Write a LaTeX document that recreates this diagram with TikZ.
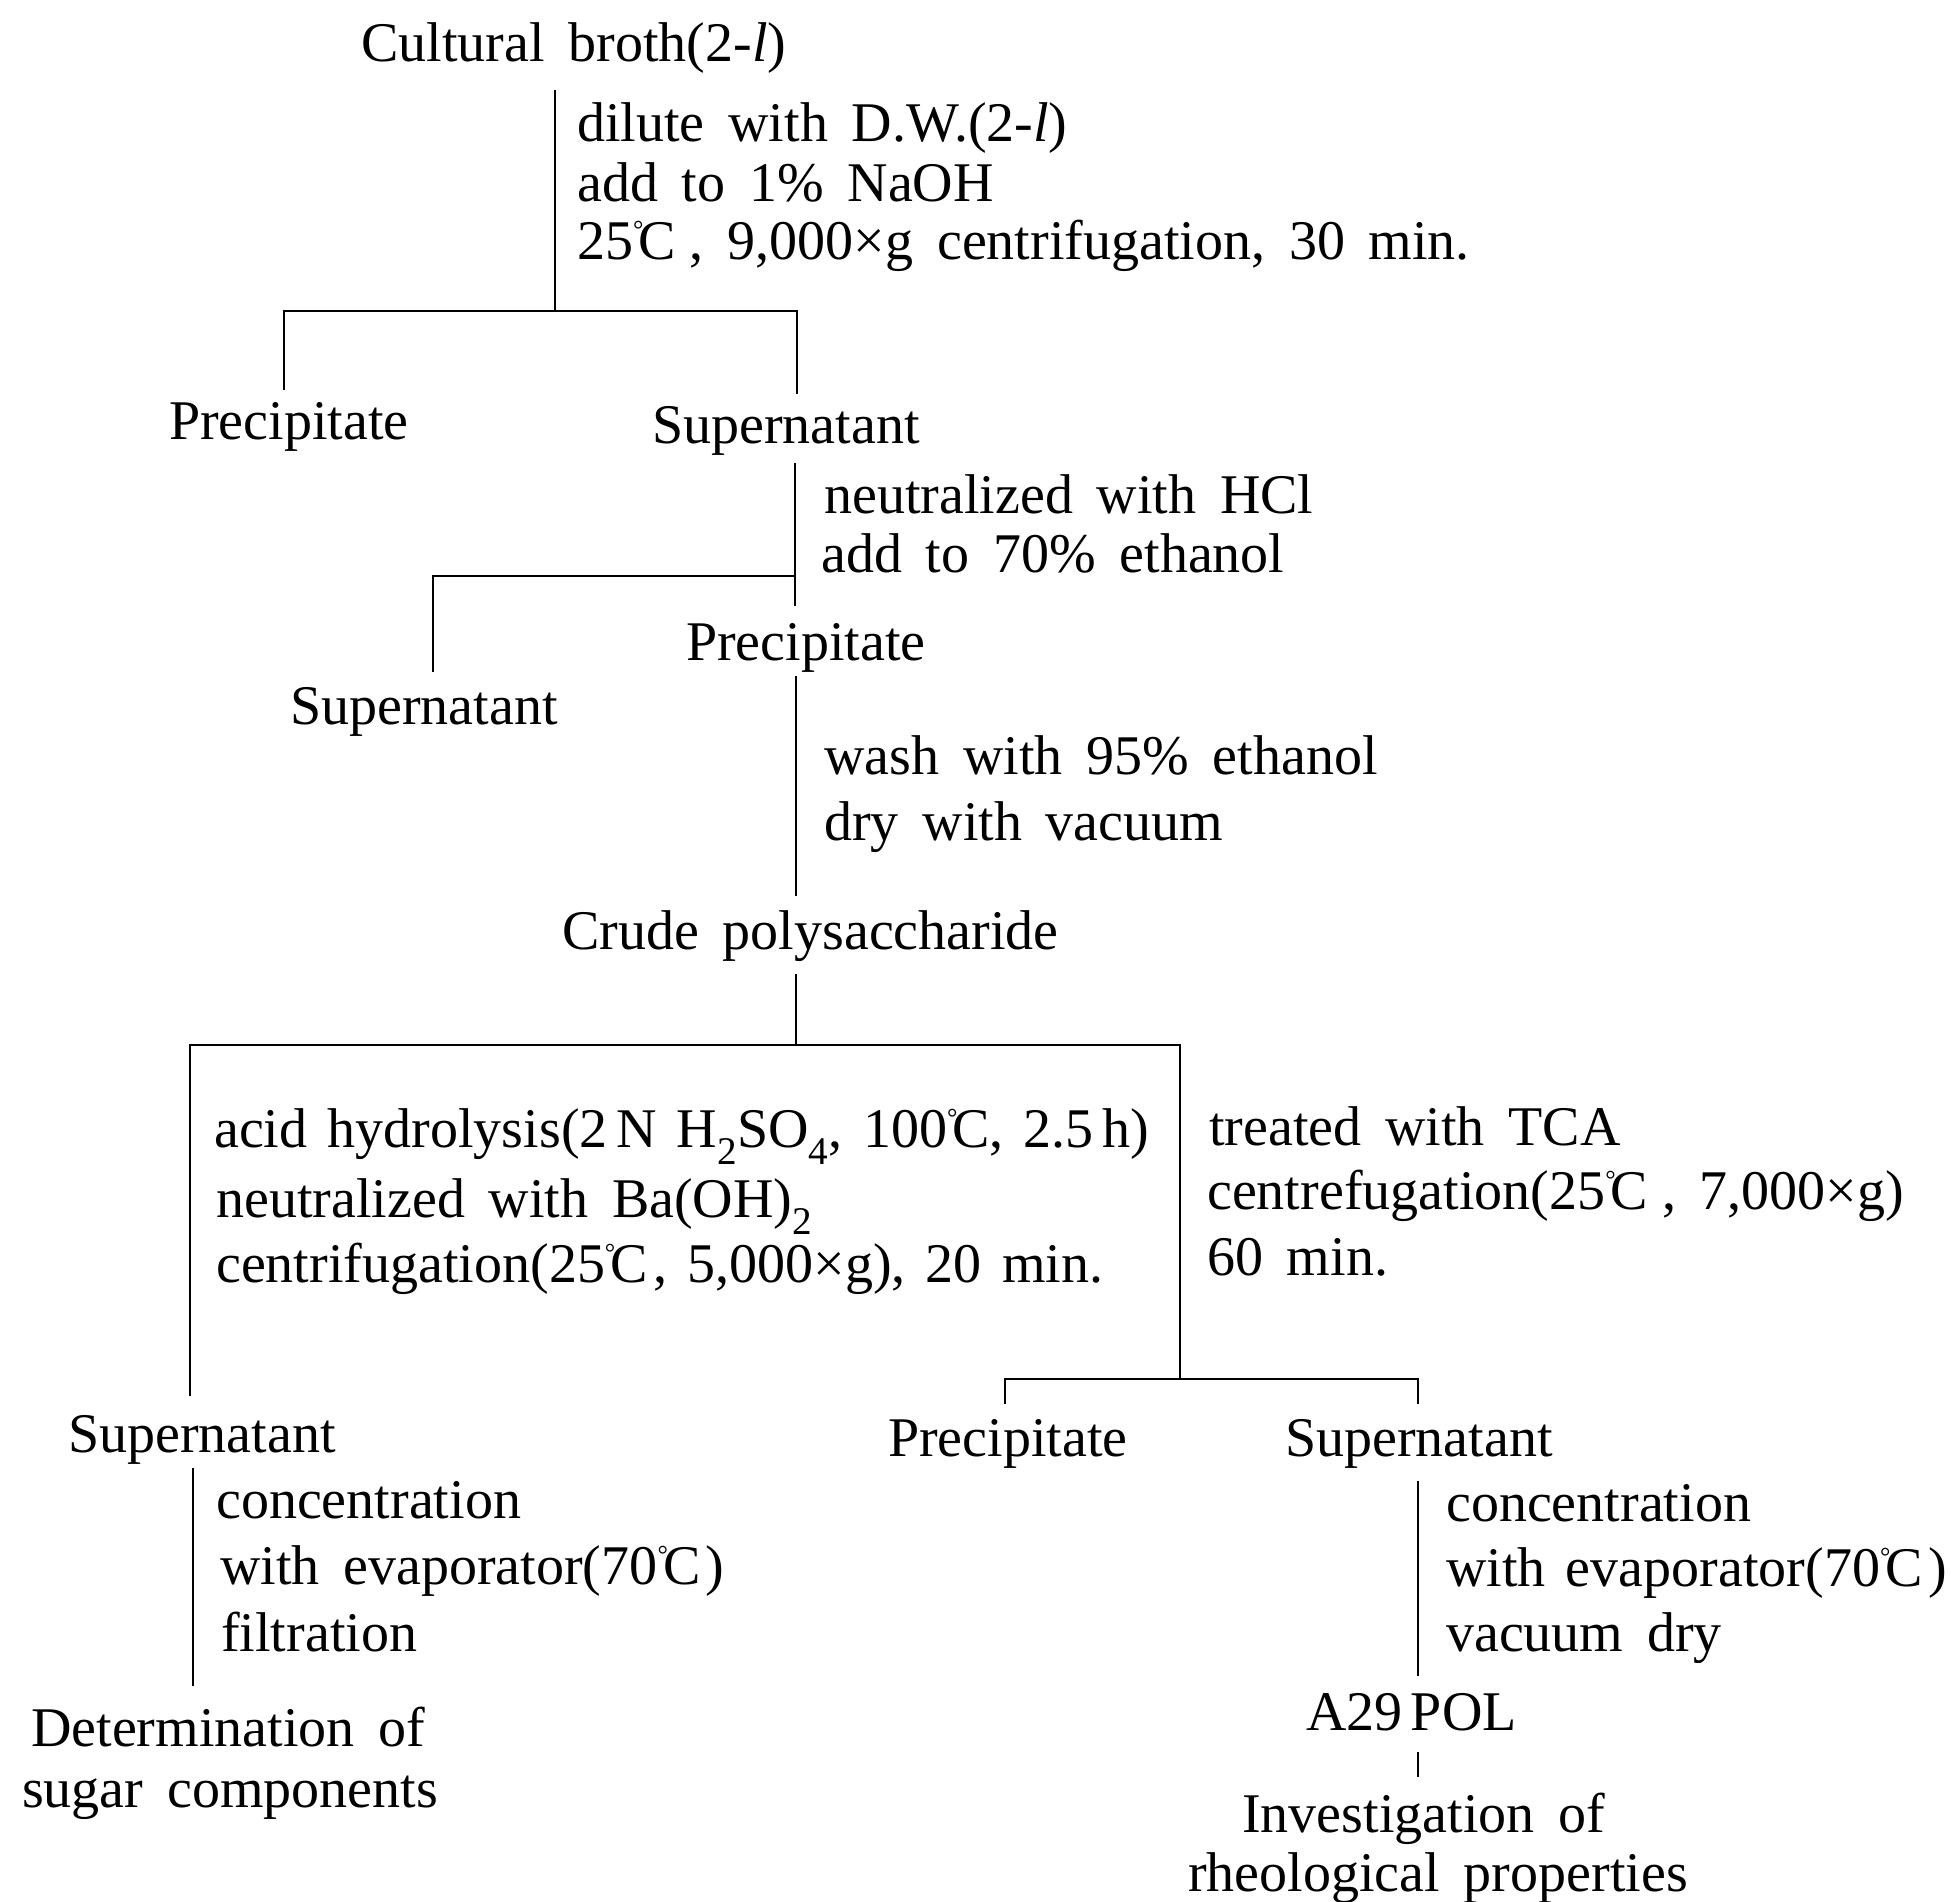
\documentclass[tikz,border=0pt]{standalone}
\usepackage{fontspec}
\setmainfont{Liberation Serif}[WordSpace=1.7]
\newcommand{\dgc}{\raisebox{21pt}{\fontsize{26}{26}\selectfont °}\kern-5pt C}
\newcommand{\tsp}{\hspace{0.25em}}
\newcommand{\psp}{\hspace{0.1em}}
\newcommand{\tightsp}{\spaceskip=0.36em plus 0.1em minus 0.1em\relax}
\begin{document}
\begin{tikzpicture}[x=1pt,y=-1pt,
  txt/.style={anchor=base west,inner sep=0pt,font=\fontsize{56}{66}\selectfont},
  ln/.style={line width=2.7pt}]
\useasboundingbox[fill=white] (0,0) rectangle (1951,1902);

% --- section 1
\node[txt] (broth) at (361,62) {Cultural broth(2-\textit{l})};
\node[txt] (s1a) at (577,142) {dilute with D.W.(2-\textit{l})};
\node[txt] (s1b) at (577,202) {add to 1\% NaOH};
\node[txt] (s1c) at (577,260) {25\dgc\tsp, 9,000×g centrifugation, 30 min.};
\node[txt] (prec1) at (169,439) {Precipitate};
\node[txt] (sup1) at (652,443) {Supernatant};
\coordinate (c1top) at (555,90);
\coordinate (c1mid) at (555,311);
\coordinate (c1l) at (284,311);
\coordinate (c1lb) at (284,390);
\coordinate (c1r) at (797,311);
\coordinate (c1rb) at (797,394);
\draw[ln] (c1top) -- (c1mid);
\draw[ln] (c1lb) -- (c1l) -- (c1r) -- (c1rb);

% --- section 2
\node[txt] (s2a) at (824,513) {neutralized with HCl};
\node[txt] (s2b) at (821,572) {add to 70\% ethanol};
\node[txt] (prec2) at (686,660) {Precipitate};
\node[txt] (sup2) at (290,724) {Supernatant};
\coordinate (c2top) at (795,463);
\coordinate (c2mid) at (795,576);
\coordinate (c2bot) at (795,606);
\coordinate (c2l) at (433,576);
\coordinate (c2lb) at (433,672);
\draw[ln] (c2top) -- (c2bot);
\draw[ln] (c2mid) -- (c2l) -- (c2lb);

% --- section 3
\node[txt] (s3a) at (824,774) {wash with 95\% ethanol};
\node[txt] (s3b) at (824,840) {dry with vacuum};
\node[txt] (crude) at (562,949) {Crude polysaccharide};
\coordinate (c3top) at (796,676);
\coordinate (c3bot) at (796,896);
\draw[ln] (c3top) -- (c3bot);

% --- section 4
\coordinate (c4top) at (796,974);
\coordinate (c4mid) at (796,1045);
\coordinate (c4l) at (190,1045);
\coordinate (c4lb) at (190,1396);
\coordinate (c4r) at (1180,1045);
\coordinate (c4rb) at (1180,1379);
\draw[ln] (c4top) -- (c4mid);
\draw[ln] (c4lb) -- (c4l) -- (c4r) -- (c4rb);
\node[txt] (s4a) at (214,1147) {\tightsp acid hydrolysis(2\hspace{0.15em}N H\textsubscript{2}SO\textsubscript{4}, 100\dgc, 2.5\hspace{0.15em}h)};
\node[txt] (s4b) at (216,1217) {neutralized with Ba(OH)\textsubscript{2}};
\node[txt] (s4c) at (216,1282) {\tightsp centrifugation(25\dgc\psp, 5,000×g), 20 min.};
\node[txt] (s5a) at (1209,1145) {treated with TCA};
\node[txt] (s5b) at (1207,1209) {centrefugation(25\dgc\tsp, 7,000×g)};
\node[txt] (s5c) at (1207,1275) {60 min.};

% --- section 5
\coordinate (c5l) at (1005,1379);
\coordinate (c5lb) at (1005,1404);
\coordinate (c5r) at (1418,1379);
\coordinate (c5rb) at (1418,1404);
\draw[ln] (c5lb) -- (c5l) -- (c4rb) -- (c5r) -- (c5rb);
\node[txt] (prec3) at (888,1456) {Precipitate};
\node[txt] (sup3) at (1285,1456) {Supernatant};
\node[txt] (sup4) at (68,1452) {Supernatant};

% --- left bottom
\coordinate (c6top) at (193,1468);
\coordinate (c6bot) at (193,1686);
\draw[ln] (c6top) -- (c6bot);
\node[txt] (s6a) at (216,1518) {concentration};
\node[txt] (s6b) at (220,1584) {with evaporator(70\dgc\psp)};
\node[txt] (s6c) at (221,1651) {filtration};
\node[txt] (det1) at (31,1746) {Determination of};
\node[txt] (det2) at (22,1807) {sugar components};

% --- right bottom
\coordinate (c7top) at (1418,1481);
\coordinate (c7bot) at (1418,1676);
\draw[ln] (c7top) -- (c7bot);
\node[txt] (s7a) at (1446,1521) {concentration};
\node[txt] (s7b) at (1446,1586) {\tightsp with evaporator(70\dgc\psp)};
\node[txt] (s7c) at (1446,1651) {vacuum dry};
\node[txt] (a29) at (1306,1730) {A29\hspace{0.15em}POL};
\coordinate (c8top) at (1418,1752);
\coordinate (c8bot) at (1418,1777);
\draw[ln] (c8top) -- (c8bot);
\node[txt] (inv1) at (1242,1832) {Investigation of};
\node[txt] (inv2) at (1188,1891) {rheological properties};
\end{tikzpicture}
\end{document}
